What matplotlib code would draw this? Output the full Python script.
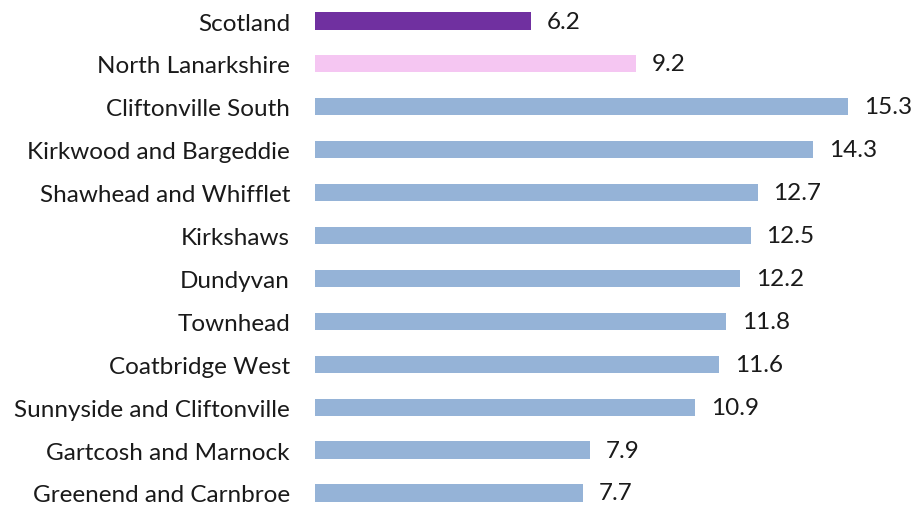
import numpy as np
from matplotlib import pyplot as plt

areas = ['Scotland', 'North Lanarkshire', 'Cliftonville South', 'Kirkwood and Bargeddie',
         'Shawhead and Whifflet', 'Kirkshaws', 'Dundyvan', 'Townhead', 'Coatbridge West',
         'Sunnyside and Cliftonville', 'Gartcosh and Marnock', 'Greenend and Carnbroe']
values = [6.2, 9.2, 15.3, 14.3, 12.7, 12.5, 12.2, 11.8, 11.6, 10.9, 7.9, 7.7]
colours = ['#7030A0', '#F5C6F2'] + ['#95B3D7'] * 10

plt.rcParams['font.family'] = ['Lato', 'DejaVu Sans']

fig = plt.figure(figsize=(9.12, 5.06), dpi=100)
ax = fig.add_axes([315 / 912, 0, 597 / 912, 1])

y = np.arange(len(areas))
ax.barh(y, values, height=0.4, color=colours)
for yi, v in zip(y, values):
    ax.text(v + 0.45, yi, f'{v:.1f}', va='center', ha='left', fontsize=17.5, color='#1a1a1a')

ax.set_xlim(0, 597 / 34.85)
ax.set_ylim(11.28, -0.513)
ax.set_yticks(y)
ax.set_yticklabels(areas, fontsize=17.5, color='#1a1a1a')
ax.tick_params(axis='y', length=0, pad=18)
ax.set_xticks([])
for s in ax.spines.values():
    s.set_visible(False)

fig.savefig('out.png', dpi=100)
